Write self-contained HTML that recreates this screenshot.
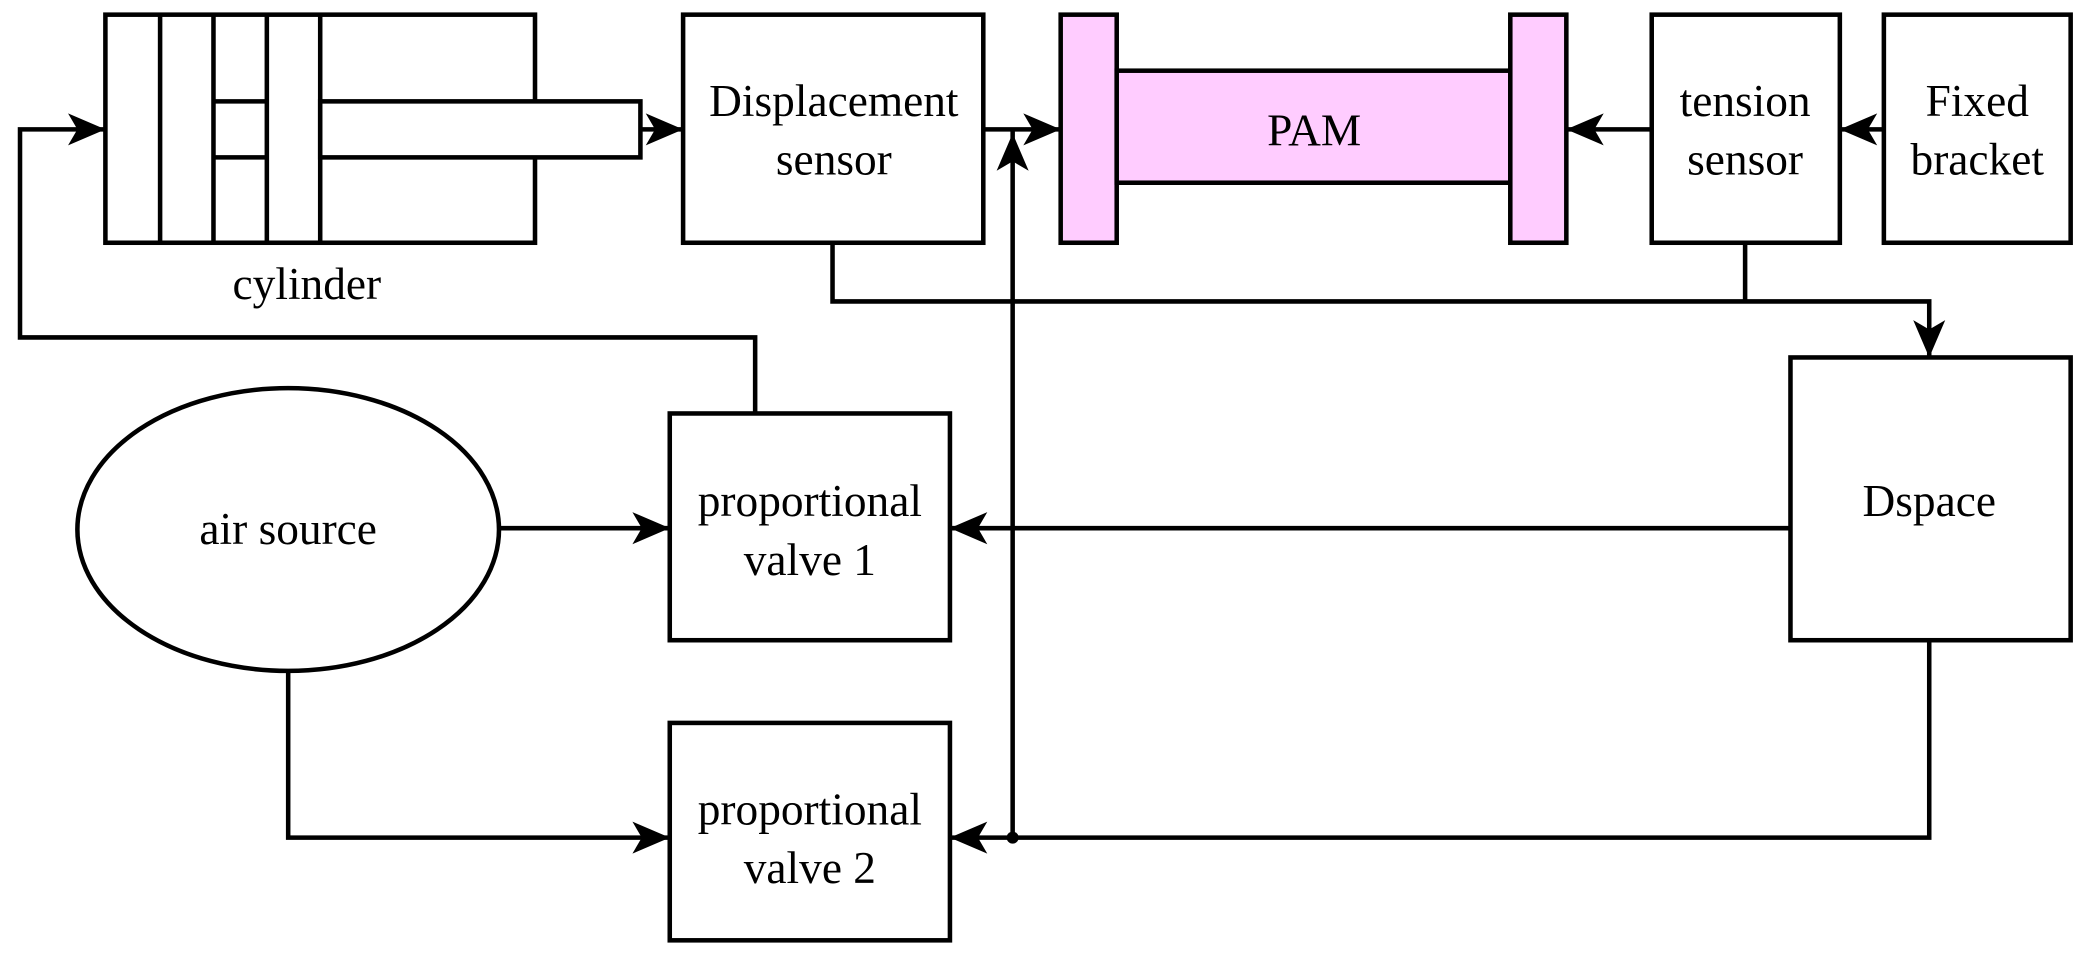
<!DOCTYPE html>
<html><head><meta charset="utf-8"><style>html,body{margin:0;padding:0;background:#fff}svg{display:block}</style></head>
<body>
<svg width="2092" height="967" viewBox="0 0 1568 725" preserveAspectRatio="none" xmlns="http://www.w3.org/2000/svg">
<g fill="none" stroke="#000" stroke-width="3.4">
<rect x="79" y="11" width="322" height="171" fill="#fff"/>
<line x1="120" y1="11" x2="120" y2="182"/>
<line x1="160" y1="11" x2="160" y2="182"/>
<line x1="200" y1="11" x2="200" y2="182"/>
<line x1="240" y1="11" x2="240" y2="182"/>
<rect x="240" y="76" width="240" height="42" fill="#fff"/>
<line x1="160" y1="76" x2="200" y2="76"/>
<line x1="160" y1="118" x2="200" y2="118"/>
<rect x="512" y="11" width="225" height="171"/>
<rect x="795" y="11" width="42" height="171" fill="#ffccff"/>
<rect x="837" y="53" width="295" height="84" fill="#ffccff"/>
<rect x="1132" y="11" width="42" height="171" fill="#ffccff"/>
<rect x="1238" y="11" width="141" height="171"/>
<rect x="1412" y="11" width="140" height="171"/>
<rect x="1342" y="268" width="210" height="212"/>
<rect x="502" y="310" width="210" height="170"/>
<rect x="502" y="542" width="210" height="163"/>
<ellipse cx="216" cy="397" rx="158" ry="106"/>
<line x1="480" y1="97" x2="512" y2="97"/>
<polyline points="566,310 566,253 15,253 15,97 79,97"/>
<line x1="737" y1="97" x2="795" y2="97"/>
<line x1="1238" y1="97" x2="1174" y2="97"/>
<line x1="1412" y1="97" x2="1379" y2="97"/>
<polyline points="624,182 624,226 1446,226 1446,268"/>
<line x1="1308" y1="182" x2="1308" y2="226"/>
<line x1="1342" y1="396" x2="712" y2="396"/>
<polyline points="1446,480 1446,628 712,628"/>
<line x1="759" y1="628" x2="759" y2="97"/>
<line x1="374" y1="396" x2="502" y2="396"/>
<polyline points="216,503 216,628 502,628"/>
</g>
<circle cx="759" cy="628" r="4.5" fill="#000"/>
<g fill="#000">
<path d="M512,97 l-28,-12 l7,12 l-7,12 Z"/>
<path d="M79,97 l-28,-12 l7,12 l-7,12 Z"/>
<path d="M795,97 l-28,-12 l7,12 l-7,12 Z"/>
<path d="M502,396 l-28,-12 l7,12 l-7,12 Z"/>
<path d="M502,628 l-28,-12 l7,12 l-7,12 Z"/>
<path d="M1174,97 l28,-12 l-7,12 l7,12 Z"/>
<path d="M1379,97 l28,-12 l-7,12 l7,12 Z"/>
<path d="M712,396 l28,-12 l-7,12 l7,12 Z"/>
<path d="M712,628 l28,-12 l-7,12 l7,12 Z"/>
<path d="M1446,268 l-12,-28 l12,7 l12,-7 Z"/>
<path d="M759,100 l-12,28 l12,-7 l12,7 Z"/>
</g>
<g font-family="Liberation Serif, serif" font-size="34" text-anchor="middle" fill="#000">
<text x="230" y="224">cylinder</text>
<text x="625" y="87">Displacement</text>
<text x="625" y="131">sensor</text>
<text x="985" y="109">PAM</text>
<text x="1308" y="87">tension</text>
<text x="1308" y="131">sensor</text>
<text x="1482" y="87">Fixed</text>
<text x="1482" y="131">bracket</text>
<text x="1446" y="387">Dspace</text>
<text x="216" y="408">air source</text>
<text x="607" y="387">proportional</text>
<text x="607" y="431">valve 1</text>
<text x="607" y="618">proportional</text>
<text x="607" y="662">valve 2</text>
</g>
</svg>
</body></html>
